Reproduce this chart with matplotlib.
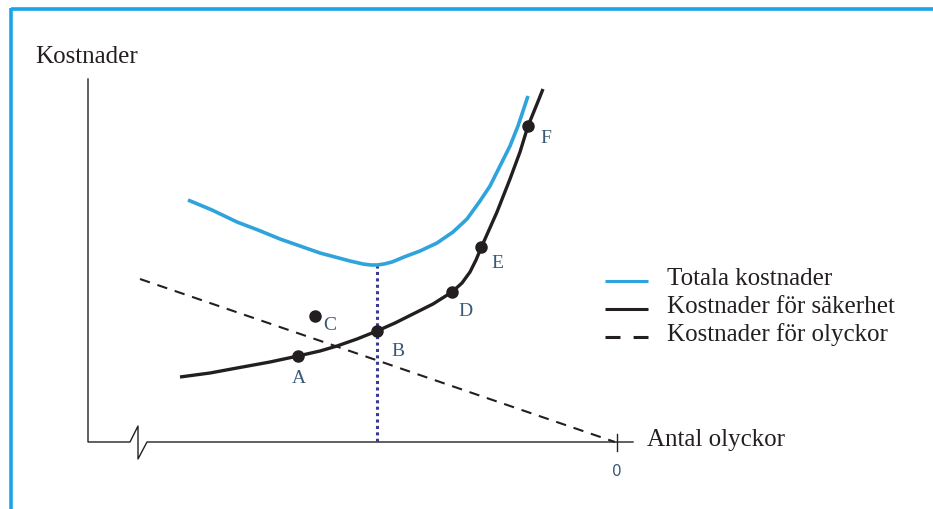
import matplotlib
matplotlib.use("Agg")
import matplotlib.pyplot as plt

# all values are in picture units (x to the right, y downwards)
total_x = [188, 212, 237, 258, 280, 300, 320, 335, 350, 363, 371, 377, 384, 392,
           404, 420, 437, 453, 467, 480, 490, 500, 510, 518, 528]
total_y = [201, 211, 223, 231, 240, 247, 254, 258, 262, 265, 266, 266, 265, 263,
           258, 252, 244, 233, 220, 202, 187, 167, 147, 127, 97]

safety_x = [180, 210, 237, 270, 298, 320, 337, 357, 377, 395, 413, 433, 452, 462,
            470, 476, 481, 489, 497, 510, 520, 528, 537, 543]
safety_y = [378, 374, 369, 363, 357, 352, 347, 340, 332, 324, 315, 305, 293, 284,
            273, 261, 249, 231, 213, 180, 153, 127, 105, 90]

accident_x = [140, 615]
accident_y = [280, 443]

point_names = ["A", "B", "C", "D", "E", "F"]
point_x = [298, 377, 315, 452, 481, 528]
point_y = [357, 332, 317, 293, 248, 127]
label_x = [299, 398, 330, 465, 497, 546]
label_y = [379, 352, 326, 312, 264, 139]

optimum_x = 377

legend_names = ["Totala kostnader", "Kostnader för säkerhet", "Kostnader för olyckor"]

BLUE = "#2fa3dc"
BLACK = "#231f20"
SLATE = "#3b5875"

fig = plt.figure(figsize=(9.33, 5.10), dpi=100)
ax = fig.add_axes([0, 0, 1, 1])
ax.set_xlim(0, 933)
ax.set_ylim(510, 0)
ax.axis("off")

serif = ["Liberation Serif", "DejaVu Serif"]

# frame (blue top and left border)
ax.plot([11, 933], [10, 10], color="#1aa5e8", lw=2.6, solid_capstyle="butt")
ax.plot([11, 11], [9, 510], color="#1aa5e8", lw=2.6, solid_capstyle="butt")

# axes with a break on the x axis
ax.plot([88, 88, 130, 138, 138, 147, 633], [80, 443, 443, 427, 460, 443, 443],
        color=BLACK, lw=1.0)
ax.plot([617, 617], [435, 452], color=BLACK, lw=1.0)
ax.text(617, 472, "0", color=SLATE, fontsize=11, ha="center", va="center",
        family="DejaVu Sans")
ax.text(35, 57, "Kostnader", fontsize=18, family=serif, color=BLACK,
        ha="left", va="center")
ax.text(647, 440, "Antal olyckor", fontsize=18, family=serif, color=BLACK,
        ha="left", va="center")

# curves
ax.plot(accident_x, accident_y, color=BLACK, lw=1.5, dashes=(5, 3.8))
ax.plot([optimum_x, optimum_x], [266, 443], color="#3a3a96", lw=2.2,
        dashes=(1, 1.1))
ax.plot(total_x, total_y, color=BLUE, lw=2.6, solid_capstyle="butt",
        solid_joinstyle="round")
ax.plot(safety_x, safety_y, color=BLACK, lw=2.4, solid_capstyle="butt",
        solid_joinstyle="round")
ax.plot(point_x, point_y, "o", color=BLACK, ms=8)

for n, lx, ly in zip(point_names, label_x, label_y):
    ax.text(lx, ly, n, color=SLATE, fontsize=14, family=serif,
            ha="center", va="center")

# legend
leg_y = [282, 310, 338]
styles = [dict(color=BLUE, lw=2.2), dict(color=BLACK, lw=2.2),
          dict(color=BLACK, lw=2.2, dashes=(4.9, 4.3))]
for name, y, st in zip(legend_names, leg_y, styles):
    ax.plot([605, 648], [y, y], solid_capstyle="butt", dash_capstyle="butt", **st)
    ax.text(667, y - 3, name, fontsize=18, family=serif, color=BLACK,
            ha="left", va="center")

fig.savefig("out.png", dpi=100)
